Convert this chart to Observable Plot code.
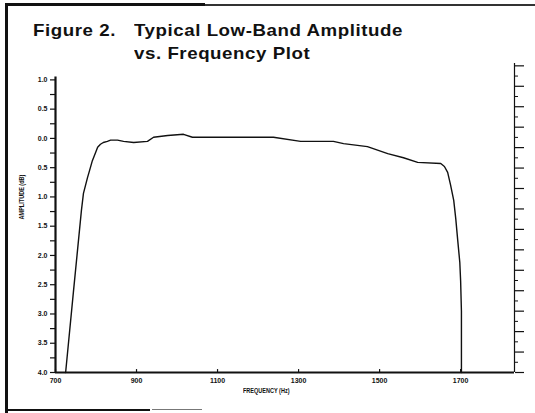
<!DOCTYPE html>
<html><head><meta charset="utf-8">
<script src="https://cdn.jsdelivr.net/npm/d3@7"></script>
<script src="https://cdn.jsdelivr.net/npm/@observablehq/plot@0.6"></script>
<style>
body{margin:0;background:#fff;}
#wrap{position:relative;width:535px;height:413px;overflow:hidden;background:#fff;font-family:"Liberation Sans",Arial,Helvetica,sans-serif;color:#111;}
.t{position:absolute;font-weight:bold;white-space:nowrap;line-height:1;}
.title{font-size:17px;letter-spacing:0.5px;transform:scaleX(1.1);transform-origin:0 0;}
.ln{position:absolute;background:#111;}
svg{position:absolute;left:0;top:0;}
</style></head><body><div id="wrap"></div>
<script>
// Frequency (Hz) and amplitude (dB)
const freq = [725, 744, 764, 769, 779, 784, 791, 799, 804, 811, 818, 828, 836, 853, 868, 893, 927, 942, 977, 1016, 1038, 1100, 1181, 1238, 1305, 1386, 1411, 1470, 1520, 1559, 1594, 1651, 1660, 1668, 1675, 1683, 1688, 1693, 1698, 1700, 1702, 1702];
const amp  = [-4.0, -2.64, -1.23, -0.94, -0.67, -0.55, -0.38, -0.24, -0.15, -0.10, -0.07, -0.05, -0.03, -0.03, -0.05, -0.07, -0.05, 0.02, 0.05, 0.07, 0.02, 0.02, 0.02, 0.02, -0.05, -0.05, -0.09, -0.14, -0.26, -0.33, -0.41, -0.43, -0.48, -0.58, -0.79, -1.06, -1.37, -1.75, -2.12, -2.43, -2.95, -4.0];

const xTicks = [700, 900, 1100, 1300, 1500, 1700];
const yTicks = [1, 0.5, 0, -0.5, -1, -1.5, -2, -2.5, -3, -3.5, -4];
const yTickLabels = ["1.0", "0.5", "0.0", "0.5", "1.0", "1.5", "2.0", "2.5", "3.0", "3.5", "4.0"];
const yMinorTicks = [0.75, 0.25, -0.25, -0.75, -1.25, -1.75, -2.25, -2.75, -3.25, -3.75];
// unlabeled right-hand axis (its own units, 0..15)
const rightMajor = d3.range(0, 16);
const rightMinor = d3.range(0.5, 15, 1);

const xDomain = [700, 1833];
const yDomain = [-4, 1.28];
const rightScale = d3.scaleLinear().domain([0, 15]).range([-4, 1.24]);

const data = freq.map((f, i) => ({f, a: amp[i]}));
const labelMap = new Map(yTicks.map((v, i) => [v, yTickLabels[i]]));

const chart = Plot.plot({
  width: 535, height: 413,
  marginLeft: 55, marginRight: 21, marginTop: 63, marginBottom: 41,
  x: {domain: xDomain, axis: null, label: null},
  y: {domain: yDomain, axis: null, label: null},
  style: {fontFamily: "'Liberation Sans', Arial, sans-serif", color: "#111", background: "#fff"},
  marks: [
    Plot.axisY({ticks: yMinorTicks, tickSize: 5, tickFormat: () => "", strokeWidth: 1.2, label: null}),
    Plot.axisY({ticks: yTicks, tickSize: 5, tickPadding: 3, strokeWidth: 1.2, label: null,
      tickFormat: d => labelMap.get(d), fontSize: 7, fontWeight: "bold"}),
    Plot.axisY({anchor: "right", ticks: rightMajor.map(rightScale), tickSize: 9, tickFormat: () => "", strokeWidth: 1.2, label: null}),
    Plot.axisY({anchor: "right", ticks: rightMinor.map(rightScale), tickSize: 3, tickFormat: () => "", strokeWidth: 1, label: null}),
    Plot.axisX({ticks: xTicks, tickSize: 0, tickPadding: 6, tickFormat: d => String(d), fontSize: 7, fontWeight: "bold", label: null}),
    Plot.ruleX(xTicks, {y1: yDomain[0], y2: yDomain[0] + 0.05, strokeWidth: 1.2}),
    Plot.ruleX([xDomain[0]], {y1: yDomain[0], y2: 1.05, strokeWidth: 2.2}),
    Plot.ruleX([xDomain[1]], {y1: yDomain[0], y2: yDomain[1], strokeWidth: 1.2}),
    Plot.ruleY([yDomain[0]], {x1: xDomain[0], x2: xDomain[1], strokeWidth: 2.2}),
    Plot.line(data, {x: "f", y: "a", stroke: "#111", strokeWidth: 1.4, curve: "linear", strokeLinejoin: "round"})
  ]
});

const wrap = document.getElementById("wrap");
wrap.appendChild(chart);

function addText(txt, cls, left, top, extra) {
  const d = document.createElement("div");
  d.className = "t " + cls;
  d.textContent = txt;
  d.style.left = left + "px";
  d.style.top = top + "px";
  if (extra) Object.assign(d.style, extra);
  wrap.appendChild(d);
  return d;
}
addText("Figure 2.", "title", 33, 22);
addText("Typical Low-Band Amplitude", "title", 134, 22);
addText("vs. Frequency Plot", "title", 134, 45);
addText("FREQUENCY (Hz)", "", 243, 388, {fontSize: "6.5px", transform: "scaleX(0.85)", transformOrigin: "0 0"});
const yl = addText("AMPLITUDE (dB)", "", 0, 0, {fontSize: "6.5px"});
yl.style.left = "22px"; yl.style.top = "197px";
yl.style.transform = "translate(-50%,-50%) rotate(-90deg) scaleX(0.85)";

// frame lines
function line(l, t, w, h, bg) {
  const d = document.createElement("div");
  d.className = "ln";
  Object.assign(d.style, {left: l + "px", top: t + "px", width: w + "px", height: h + "px"});
  if (bg) d.style.background = bg;
  wrap.appendChild(d);
}
line(5, 3, 200, 3);
line(205, 4, 330, 2, "#333");
line(5, 3, 3, 410);
line(5, 409, 145, 2);
line(152, 409, 50, 1, "#777");
</script></body></html>
